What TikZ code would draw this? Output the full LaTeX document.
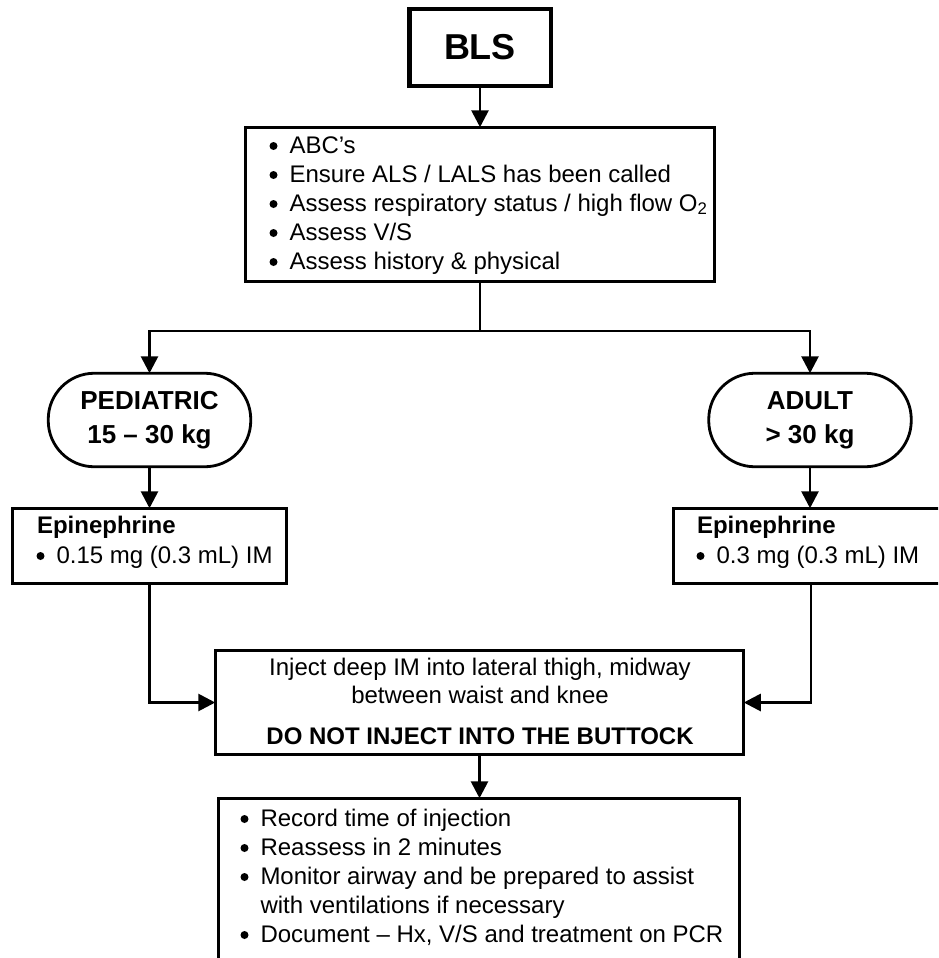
\documentclass[tikz,border=0pt]{standalone}
\usepackage{fontspec}
\setmainfont{Liberation Sans}
\usetikzlibrary{arrows.meta}
\newcommand\ind{\hspace*{19.5pt}}
\begin{document}
\begin{tikzpicture}[x=1pt,y=-1pt,
  every node/.style={inner sep=0pt, outer sep=0pt, font=\fontsize{24}{29}\selectfont},
  box/.style={draw, line width=2.8pt, rectangle},
  pill/.style={draw, line width=2.8pt, rounded corners=46pt, font=\bfseries\fontsize{26}{34}\selectfont, align=center, minimum width=202.5pt, minimum height=93.5pt},
  txt/.style={anchor=base west},
  ctxt/.style={anchor=base},
  btxt/.style={font=\bfseries\fontsize{24}{29}\selectfont},
  arr/.style={line width=2.8pt, -{Triangle[length=17pt,width=17pt]}},
  ln/.style={line width=2.8pt},
  dot/.style={fill=black}]
\useasboundingbox (0,0) rectangle (938,958);
\clip (0,0) rectangle (938,958);
% BLS
\node[box, line width=4.5pt, minimum width=141.5pt, minimum height=76.5pt, font=\bfseries\fontsize{36}{36}\selectfont] (bls) at (480,47.5) {BLS};
% main
\node[box, minimum width=469.5pt, minimum height=154.5pt] (abc) at (480,204.5) {};
\node[txt] (a1) at (270,153) {\ind ABC’s};
\node[txt] (a2) at (270,182) {\ind Ensure ALS / LALS has been called};
\node[txt] (a3) at (270,211) {\ind Assess respiratory status / high flow O\textsubscript{2}};
\node[txt] (a4) at (270,240) {\ind Assess V/S};
\node[txt] (a5) at (270,269) {\ind Assess history \& physical};
% pills
\node[pill] (ped) at (149.5,420) {PEDIATRIC\\15 – 30 kg};
\node[pill] (adult) at (810,420) {ADULT\\> 30 kg};
% epi boxes
\node[box, minimum width=274.5pt, minimum height=75.5pt] (pepi) at (149.5,546) {};
\node[txt, btxt] (pe1) at (37,533) {Epinephrine};
\node[txt] (pe2) at (37,563) {\ind 0.15 mg (0.3 mL) IM};
\node[box, minimum width=275.5pt, minimum height=75.5pt] (aepi) at (811,546) {};
\node[txt, btxt] (ae1) at (697,533) {Epinephrine};
\node[txt] (ae2) at (697,563) {\ind 0.3 mg (0.3 mL) IM};
% inject
\node[box, minimum width=528.5pt, minimum height=104.5pt] (inj) at (479.5,702.5) {};
\node[ctxt] (i1) at (480,675) {Inject deep IM into lateral thigh, midway};
\node[ctxt] (i2) at (480,703) {between waist and knee};
\node[ctxt, btxt] (i3) at (480,744) {DO NOT INJECT INTO THE BUTTOCK};
% bottom
\node[box, minimum width=521.5pt, minimum height=200.5pt] (rec) at (479,898.5) {};
\node[txt] (r1) at (241,826) {\ind Record time of injection};
\node[txt] (r2) at (241,855) {\ind Reassess in 2 minutes};
\node[txt] (r3) at (241,884) {\ind Monitor airway and be prepared to assist};
\node[txt] (r4) at (241,913) {\ind with ventilations if necessary};
\node[txt] (r5) at (241,942) {\ind Document – Hx, V/S and treatment on PCR};
% bullets
\foreach \n in {a1,a2,a3,a4,a5,pe2,ae2,r1,r2,r3,r5}
  \fill[dot] ([xshift=3.5pt,yshift=7pt]\n.base west) circle (4pt);
% connectors
\coordinate (split) at (480,331);
\draw[arr] (bls.south) -- (abc.north);
\draw[ln] (abc.south) -- (split);
\draw[arr] (split) -| (ped.north);
\draw[arr] (split) -| (adult.north);
\draw[arr] (ped.south) -- (pepi.north -| ped.south);
\draw[arr] (adult.south) -- (aepi.north -| adult.south);
\draw[arr] (pepi.south) |- (inj.west);
\draw[arr] (aepi.south) |- (inj.east);
\draw[arr] (inj.south) -- (rec.north -| inj.south);
\end{tikzpicture}
\end{document}
